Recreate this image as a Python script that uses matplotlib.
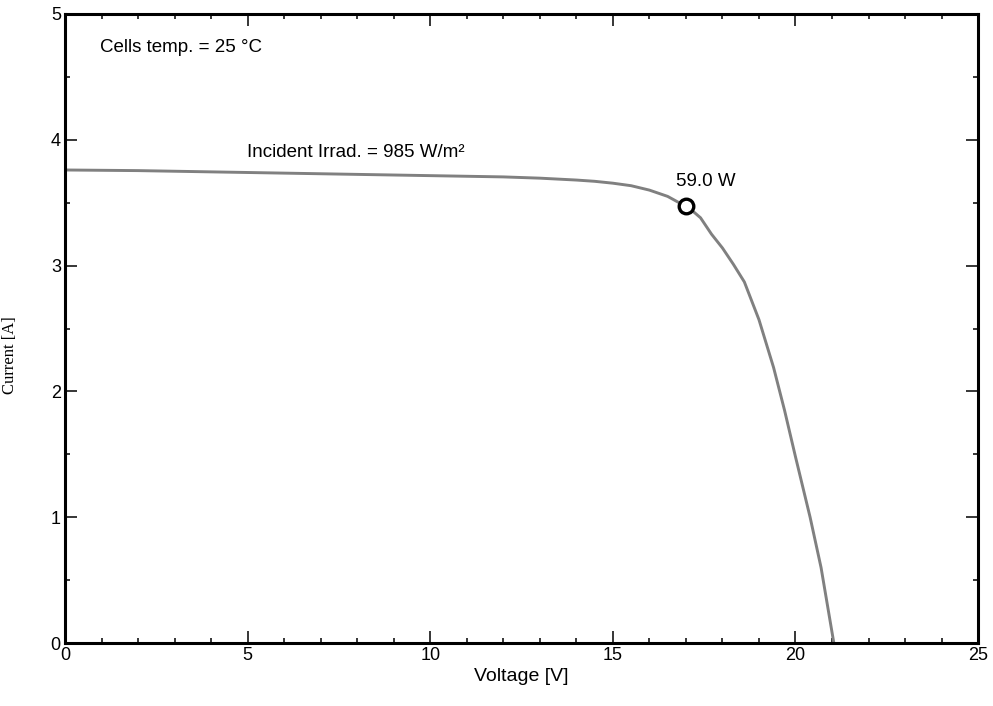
import matplotlib.pyplot as plt
from matplotlib.ticker import MultipleLocator

# I-V curve
voltage = [0, 2, 4, 6, 8, 10, 12, 13, 14, 14.5, 15, 15.5, 16, 16.5, 17.0,
           17.2, 17.4, 17.7, 18.0, 18.3, 18.6, 19.0, 19.4, 19.7, 20.0,
           20.4, 20.7, 21.05]
current = [3.76, 3.755, 3.745, 3.735, 3.725, 3.715, 3.705, 3.695, 3.68, 3.67,
           3.655, 3.635, 3.60, 3.55, 3.47, 3.43, 3.38, 3.25, 3.14, 3.01,
           2.87, 2.57, 2.19, 1.85, 1.48, 1.0, 0.6, 0.0]
mpp_v = 17.0
mpp_i = 3.47
mpp_label = '59.0 W'

plt.rcParams['font.family'] = ['Liberation Sans', 'DejaVu Sans']

fig = plt.figure(figsize=(9.93, 7.06), dpi=100)
ax = fig.add_axes([0.0655, 0.0892, 0.9195, 0.891])

ax.plot(voltage, current, color='#808080', lw=2.1, zorder=2)
ax.plot([mpp_v], [mpp_i], 'o', ms=10.5, mfc='white', mec='black', mew=2.4, zorder=3)

ax.set_xlim(0, 25)
ax.set_ylim(0, 5)
ax.xaxis.set_major_locator(MultipleLocator(5))
ax.xaxis.set_minor_locator(MultipleLocator(1))
ax.yaxis.set_major_locator(MultipleLocator(1))
ax.yaxis.set_minor_locator(MultipleLocator(0.5))
ax.tick_params(which='both', direction='in', top=True, right=True, width=1.1, labelsize=13)
ax.tick_params(which='major', length=8.5, pad=3)
ax.tick_params(which='minor', length=3.8)
for s in ax.spines.values():
    s.set_linewidth(2.2)

ax.set_xlabel('Voltage [V]', fontsize=14, labelpad=3)
ax.set_ylabel('Current [A]', fontsize=12, family=['Liberation Serif'])
ax.yaxis.set_label_coords(-0.051, 0.458)

ax.text(0.96, 4.73, 'Cells temp. = 25 °C', fontsize=13.5, va='center')
ax.text(4.98, 3.895, 'Incident Irrad. = 985 W/m²', fontsize=13.5, va='center')
ax.text(16.73, 3.67, mpp_label, fontsize=13.5, va='center')

fig.savefig('out.png', dpi=100)
